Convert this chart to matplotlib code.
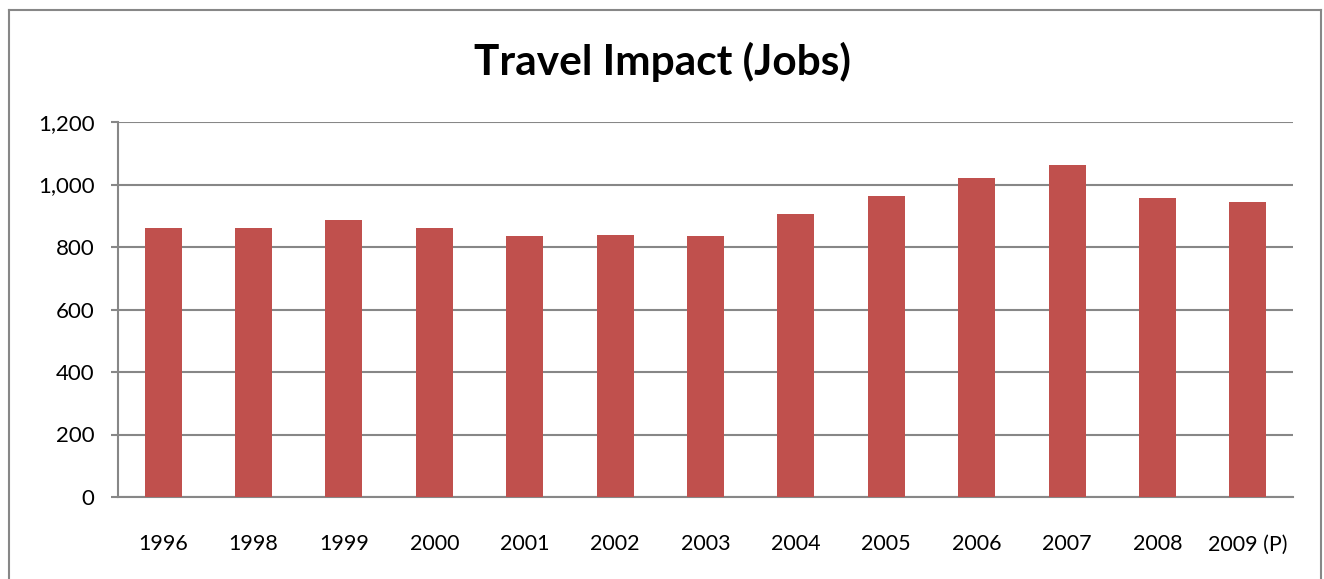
import matplotlib.pyplot as plt
import numpy as np
from matplotlib.lines import Line2D

# ============================================================
# Data
# ============================================================

years = ["1996", "1998", "1999", "2000", "2001", "2002", "2003",
         "2004", "2005", "2006", "2007", "2008", "2009 (P)"]
jobs = [860, 860, 886, 860, 834, 840, 834, 905, 964, 1022, 1061, 957, 944]

y_ticks = [0, 200, 400, 600, 800, 1000, 1200]

# ============================================================
# Figure
# ============================================================

plt.rcParams["font.family"] = ["Lato", "DejaVu Sans"]

W, H = 1324, 579
fig = plt.figure(figsize=(W / 100, H / 100), dpi=100)
ax = fig.add_axes([118 / W, 1 - 497 / H, (1293 - 118) / W, (497 - 122) / H])

x = np.arange(len(years))
ax.bar(x, jobs, width=0.41, color="#C0504D", zorder=3)

ax.set_xlim(-0.5, len(years) - 0.5)
ax.set_ylim(0, 1200)
ax.set_yticks(y_ticks)
ax.set_yticklabels([f"{v:,}" for v in y_ticks], fontsize=16)
ax.set_xticks(x)
ax.set_xticklabels(years, fontsize=15.5)
ax.tick_params(axis="x", length=0, pad=27)
ax.tick_params(axis="y", length=5, color="#878787", width=1.5, pad=12)

ax.grid(axis="y", color="#878787", linewidth=1.5, zorder=0)
for side in ["top", "right"]:
    ax.spines[side].set_visible(False)
for side in ["left", "bottom"]:
    ax.spines[side].set_color("#878787")
    ax.spines[side].set_linewidth(1.5)

fig.text(0.5, 1 - 62 / H, "Travel Impact (Jobs)", ha="center", va="center",
         fontsize=30.5, fontweight="bold")

# Outer chart border
bx0, bx1, by = 8.5 / W, 1321 / W, 1 - 10 / H
for xs, ys in [([bx0, bx1], [by, by]), ([bx0, bx0], [0, by]), ([bx1, bx1], [0, by])]:
    fig.add_artist(Line2D(xs, ys, color="#878787", linewidth=1.5,
                          transform=fig.transFigure))

fig.savefig("out.png", dpi=100)
